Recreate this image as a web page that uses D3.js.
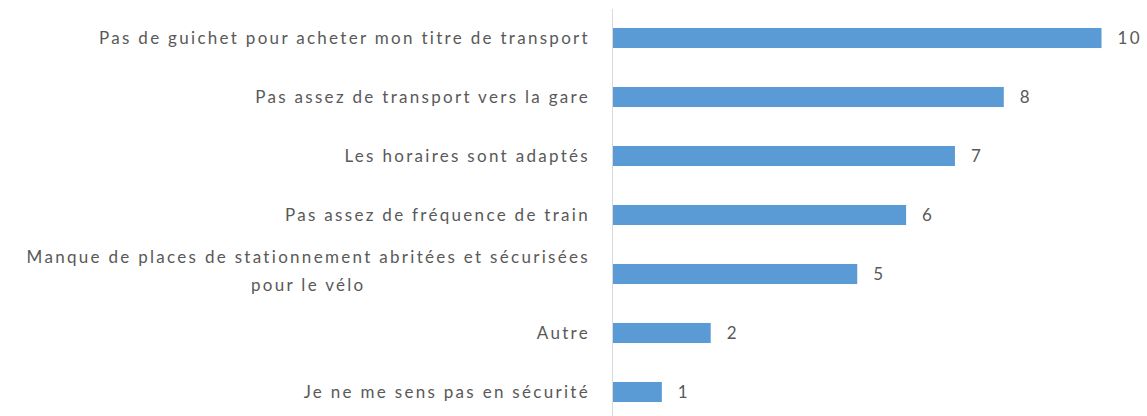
<!DOCTYPE html>
<html>
<head>
<meta charset="utf-8">
<script src="https://cdn.jsdelivr.net/npm/d3@7"></script>
<style>
  body { margin: 0; background: #fff; }
  svg { display: block; }
  .cat_label, .value_label { font-family: Lato, "Open Sans", sans-serif; fill: #595959; letter-spacing: 2.3px; }
</style>
</head>
<body>
<script>
// categories, top to bottom; multi-line labels split on "\n"
const categories = [
  "Pas de guichet pour acheter mon titre de transport",
  "Pas assez de transport vers la gare",
  "Les horaires sont adaptés",
  "Pas assez de fréquence de train",
  "Manque de places de stationnement abritées et sécurisées\npour le vélo",
  "Autre",
  "Je ne me sens pas en sécurité"
];
const values = [10, 8, 7, 6, 5, 2, 1];

const width = 1147;
const height = 416;
const axisX = 613;
const labelRight = 590;

const svg = d3.select("body")
  .append("svg")
  .attr("width", width)
  .attr("height", height);

const x = d3.scaleLinear().domain([0, 10]).range([axisX, 1101.5]);
const y = d3.scaleBand()
  .domain(categories)
  .range([8.5, 421.5])
  .paddingInner(0.66)
  .paddingOuter(0.33);

svg.append("line")
  .attr("x1", axisX - 0.5).attr("x2", axisX - 0.5)
  .attr("y1", 9).attr("y2", height)
  .attr("stroke", "#d9d9d9")
  .attr("stroke-width", 1);

svg.selectAll("rect.bar")
  .data(categories)
  .enter()
  .append("rect")
  .attr("class", "bar")
  .attr("x", x(0))
  .attr("y", d => y(d))
  .attr("width", (d, i) => x(values[i]) - x(0))
  .attr("height", y.bandwidth())
  .attr("fill", "#5b9bd5");

svg.selectAll("text.value_label")
  .data(categories)
  .enter()
  .append("text")
  .attr("class", "value_label")
  .attr("x", (d, i) => x(values[i]) + 16)
  .attr("y", d => y(d) + y.bandwidth() / 2)
  .attr("dy", "0.35em")
  .attr("font-size", 17)
  .text((d, i) => values[i]);

const labels = svg.selectAll("text.cat_label")
  .data(categories)
  .enter()
  .append("text")
  .attr("class", "cat_label")
  .attr("font-size", 17)
  .attr("y", d => y(d) + y.bandwidth() / 2);

labels.each(function(d) {
  const t = d3.select(this);
  const lines = d.split("\n");
  const lineH = 28;
  if (lines.length === 1) {
    t.attr("x", labelRight).attr("text-anchor", "end").attr("dy", "0.35em").text(d);
  } else {
    // centred block, right edge at labelRight
    const spans = lines.map((l, i) => t.append("tspan")
      .attr("y", y(d) + y.bandwidth() / 2 - 3 + (i - (lines.length - 1) / 2) * lineH)
      .attr("dy", "0.35em")
      .text(l));
    const w = d3.max(spans, s => s.node().getComputedTextLength());
    t.attr("text-anchor", "middle");
    spans.forEach(s => s.attr("x", labelRight - w / 2));
  }
});
</script>
</body>
</html>
